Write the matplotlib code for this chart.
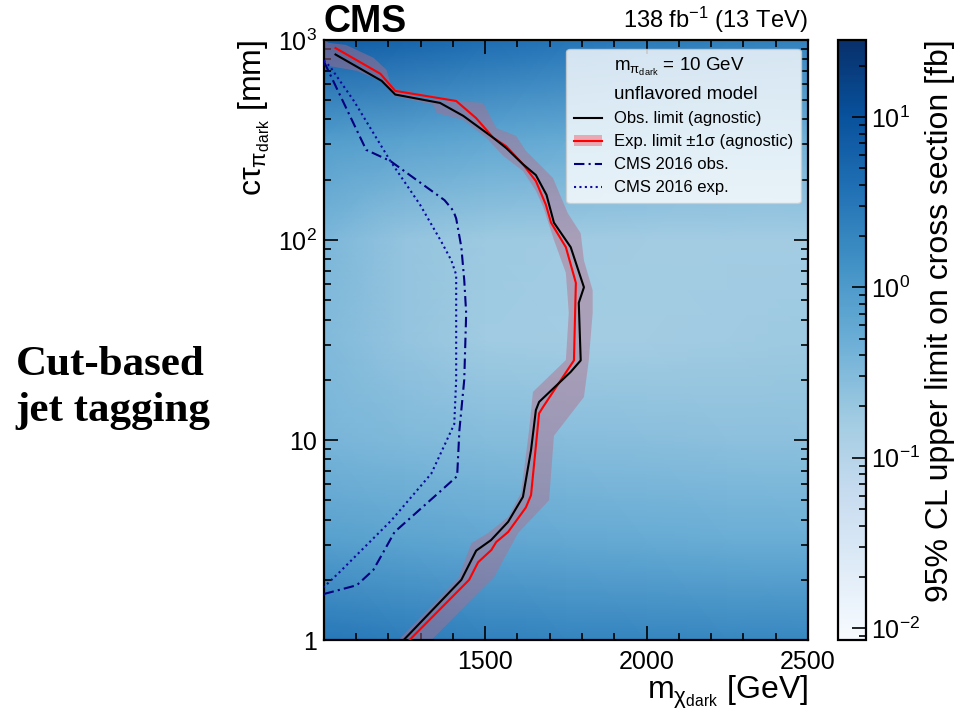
import numpy as np
import matplotlib
matplotlib.use('Agg')
import matplotlib.pyplot as plt
from matplotlib.colors import LogNorm
from matplotlib.lines import Line2D
from matplotlib.patches import Patch
from matplotlib.ticker import FixedLocator, MultipleLocator, NullFormatter, FixedFormatter, LogLocator

plt.rcParams['font.family'] = ['Liberation Sans', 'DejaVu Sans']
plt.rcParams['mathtext.fontset'] = 'custom'
plt.rcParams['mathtext.rm'] = 'Liberation Sans'
plt.rcParams['mathtext.it'] = 'Liberation Sans:italic'
plt.rcParams['mathtext.bf'] = 'Liberation Sans:bold'

# 95% CL upper limit map (fb), rows = ctau, cols = mass
grid_mass = [1000, 1250, 1500, 1750, 2000, 2250, 2500]
grid_ctau = [1, 3.16, 10, 31.6, 100, 316, 1000]
grid_limit = [
    [3.0, 2.6, 2.3, 2.1, 2.0, 1.9, 1.9],
    [0.80, 0.70, 0.62, 0.58, 0.55, 0.52, 0.50],
    [0.38, 0.33, 0.30, 0.28, 0.27, 0.26, 0.25],
    [0.32, 0.22, 0.17, 0.16, 0.16, 0.17, 0.18],
    [0.35, 0.22, 0.18, 0.17, 0.16, 0.16, 0.16],
    [0.90, 0.75, 0.65, 0.55, 0.50, 0.45, 0.45],
    [7.0, 5.5, 4.2, 3.3, 2.8, 2.4, 2.2],
]

# observed limit (agnostic)
obs_mass = [1036, 1179, 1221, 1360, 1432, 1525, 1565, 1617, 1657, 1690, 1713, 1765, 1806,
            1790, 1796, 1765, 1667, 1657, 1642, 1617, 1571, 1518, 1472, 1426, 1247]
obs_ctau = [845, 624, 533, 484, 417, 324, 288, 239, 211, 168, 122, 92, 58,
            48.5, 25, 21.9, 15.5, 14.1, 8.9, 5.2, 3.9, 3.16, 2.8, 2.0, 1]

# expected limit (agnostic)
exp_mass = [1036, 1175, 1221, 1410, 1472, 1525, 1565, 1617, 1657, 1688, 1704, 1750, 1781,
            1775, 1735, 1679, 1667, 1642, 1626, 1571, 1534, 1519, 1478, 1450, 1265]
exp_ctau = [910, 677, 556, 495, 406, 324, 294, 239, 197, 150, 122, 92, 61,
            25, 20, 14.6, 13.6, 5.3, 4.6, 3.47, 3.09, 2.82, 2.45, 2.0, 1]

# +-1 sigma band edges
band_hi_mass = [1000, 1015, 1068, 1154, 1194, 1210, 1318, 1410, 1494, 1534, 1596, 1626, 1670,
                1710, 1756, 1796, 1806, 1833, 1833, 1821, 1806, 1713, 1698, 1602, 1528, 1478, 1333]
band_hi_ctau = [1000, 966, 944, 813, 708, 575, 501, 495, 484, 363, 331, 279, 237,
                204, 136, 108, 79, 56, 43, 25, 16.4, 10.5, 5.0, 3.43, 2.07, 1.72, 1]
band_lo_mass = [1000, 1015, 1102, 1176, 1216, 1340, 1349, 1432, 1503, 1556, 1617, 1657, 1680,
                1713, 1750, 1759, 1750, 1648, 1636, 1611, 1571, 1509, 1457, 1417, 1231]
band_lo_ctau = [759, 741, 700, 624, 525, 473, 431, 398, 324, 263, 221, 176, 146,
                100, 68.4, 43.2, 25.1, 17.4, 11.2, 5.43, 4.12, 3.43, 3.05, 2.04, 1]

# CMS 2016 results
old_obs_mass = [1000, 1131, 1206, 1374, 1401, 1410, 1426, 1435, 1441, 1435, 1420, 1413,
                1364, 1219, 1188, 1153, 1102, 1000]
old_obs_ctau = [780, 282, 248, 158, 140, 128, 92, 63, 43, 20, 11.2, 6.6,
                5.6, 3.47, 2.82, 2.24, 1.88, 1.7]
old_exp_mass = [1000, 1019, 1093, 1206, 1298, 1364, 1395, 1410, 1410, 1404, 1333, 1210, 1049, 1000]
old_exp_ctau = [790, 735, 495, 248, 150, 98, 79, 67, 20, 12, 6.8, 3.98, 2.19, 1.84]

fig = plt.figure(figsize=(9.64, 7.12), dpi=100)
ax = fig.add_axes([0.336, 0.101, 0.502, 0.843])
cax = fig.add_axes([0.869, 0.101, 0.029, 0.843])

M, T = np.meshgrid(grid_mass, grid_ctau)
mesh = ax.pcolormesh(M, T, np.array(grid_limit), shading='gouraud', cmap='Blues',
                     norm=LogNorm(vmin=0.0085, vmax=28.4), rasterized=True, zorder=0)

band_color = '#b56c88'
ax.fill(band_hi_mass + band_lo_mass[::-1], band_hi_ctau + band_lo_ctau[::-1],
        color=band_color, alpha=0.46, lw=0, zorder=2)
ax.plot(exp_mass, exp_ctau, color='red', lw=1.5, zorder=3)
ax.plot(obs_mass, obs_ctau, color='black', lw=1.5, zorder=4)
ax.plot(old_obs_mass, old_obs_ctau, color='#000080', lw=1.5, ls=(0, (5, 2, 1, 2)), zorder=3)
ax.plot(old_exp_mass, old_exp_ctau, color='#0a0aa0', lw=1.5, ls=(0, (1, 1.6)), zorder=3)

ax.set_yscale('log')
ax.set_xlim(1000, 2500)
ax.set_ylim(1, 1000)

ax.xaxis.set_major_locator(FixedLocator([1500, 2000, 2500]))
ax.xaxis.set_minor_locator(MultipleLocator(100))
ax.yaxis.set_major_locator(FixedLocator([1, 10, 100, 1000]))
ax.yaxis.set_major_formatter(FixedFormatter(['1', '10', '$10^2$', '$10^3$']))
ax.yaxis.set_minor_locator(LogLocator(base=10, subs=np.arange(2, 10)))
ax.yaxis.set_minor_formatter(NullFormatter())
ax.tick_params(which='both', direction='in', top=True, right=True, labelsize=18, width=1.2)
ax.tick_params(which='major', length=10)
ax.tick_params(which='minor', length=5)
ax.tick_params(axis='x', pad=7)
ax.tick_params(axis='y', pad=5)
for sp in ax.spines.values():
    sp.set_linewidth(1.6)

ax.set_xlabel('m$_{\\mathrm{\u03c7}_{\\mathrm{dark}}}$ [GeV]', fontsize=23, loc='right', labelpad=0)
ax.set_ylabel('c\u03c4$_{\\mathrm{\u03c0}_{\\mathrm{dark}}}$ [mm]', fontsize=23, loc='top')

ax.text(0.0, 1.013, 'CMS', transform=ax.transAxes, fontsize=27, fontweight='bold',
        ha='left', va='baseline')
ax.text(1.0, 1.008, r'138 fb$^{-1}$ (13 TeV)', transform=ax.transAxes, fontsize=17,
        ha='right', va='bottom')

handles = [
    Line2D([], [], color='none'),
    Line2D([], [], color='none'),
    Line2D([], [], color='black', lw=1.5),
    (Patch(facecolor='#e8a8b4', edgecolor='none'), Line2D([], [], color='red', lw=1.5)),
    Line2D([], [], color='#000080', lw=1.5, ls=(0, (5, 2, 1, 2))),
    Line2D([], [], color='#0a0aa0', lw=1.5, ls=(0, (1, 1.6))),
]
labels = [
    'm$_{\\mathrm{\u03c0}_{\\mathrm{dark}}}$ = 10 GeV',
    'unflavored model',
    'Obs. limit (agnostic)',
    'Exp. limit \u00b11\u03c3 (agnostic)',
    'CMS 2016 obs.',
    'CMS 2016 exp.',
]
leg = ax.legend(handles, labels, loc='upper right', bbox_to_anchor=(0.985, 0.985),
                borderaxespad=0, fontsize=12, labelspacing=0.48, handlelength=1.7,
                handletextpad=0.7, borderpad=0.45, fancybox=True, framealpha=0.8,
                edgecolor='#cccccc', facecolor='white')
leg.get_texts()[0].set_fontsize(13.5)
leg.get_texts()[1].set_fontsize(13.5)
leg.set_zorder(10)

cb = fig.colorbar(mesh, cax=cax)
cb.set_label('95% CL upper limit on cross section [fb]', fontsize=23, loc='top')
cax.tick_params(which='both', direction='in', right=True, left=False, labelsize=18, width=1.2)
cax.tick_params(which='major', length=10)
cax.tick_params(which='minor', length=5)
cb.outline.set_linewidth(1.6)

fig.text(0.016, 1 - 388 / 712, 'Cut-based\njet tagging', fontsize=31, fontweight='bold',
         family=['Liberation Serif', 'DejaVu Serif'], ha='left', va='center', linespacing=1.3)

fig.savefig('out.png', dpi=100)
